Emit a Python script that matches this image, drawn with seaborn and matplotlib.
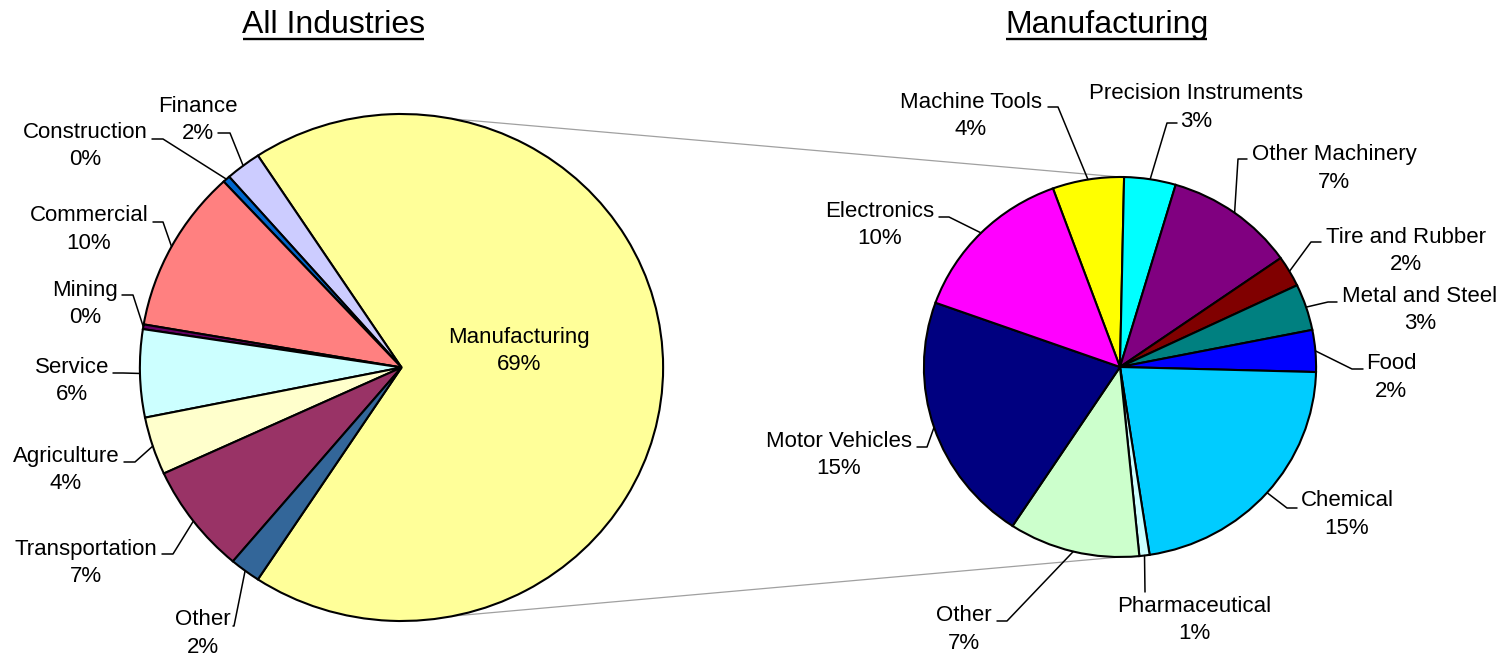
import numpy as np
import matplotlib
matplotlib.use("Agg")
import matplotlib.pyplot as plt
import seaborn as sns

# share of all industries, in %
all_names = ["Manufacturing", "Finance", "Construction", "Commercial", "Mining",
             "Service", "Agriculture", "Transportation", "Other"]
all_values = [68.6, 2.2, 0.45, 10.4, 0.3, 5.6, 3.7, 7.0, 1.9]
all_colors = ["#FFFF99", "#CCCCFF", "#0066CC", "#FF8080", "#660066",
              "#CCFFFF", "#FFFFCC", "#993366", "#336699"]

# manufacturing broken down, share of all industries in %
mfg_names = ["Machine Tools", "Precision Instruments", "Other Machinery",
             "Tire and Rubber", "Metal and Steel", "Food", "Chemical",
             "Pharmaceutical", "Other", "Motor Vehicles", "Electronics"]
mfg_values = [4.06, 2.93, 7.38, 1.82, 2.72, 2.45, 15.28, 0.58, 7.45, 14.66, 9.62]
mfg_colors = ["#FFFF00", "#00FFFF", "#800080", "#800000", "#008080", "#0000FF",
              "#00CCFF", "#CCFFFF", "#CCFFCC", "#000080", "#FF00FF"]

# layout, in pixels from the top left corner
W, H = 1505, 655
SX = 1.032  # pies are a little wider than tall


def P(x, y):
    return x / SX, H - y


all_label_xy = [(519, 348.5), (198, 117.5), (85, 143.5), (89, 227), (85, 301.5),
                (72, 378.5), (66, 467.5), (86, 560.5), (203, 631)]
all_leaders = [None, ((218, 133), (230, 133)), ((152, 139), (163, 139)),
               ((153, 222), (163, 222)), ((122, 295), (133, 295)),
               ((113, 373), (123, 373)), ((124, 462), (135, 462)),
               ((162, 554), (173, 554)), ((233, 626), (234, 626))]

mfg_label_xy = [(971, 113.5), (1196, 105), (1334, 166), (1406, 248.5), (1420, 307.5),
                (1391, 375), (1347, 512), (1194, 617.5), (964, 627), (839, 452.5),
                (880, 222.5)]
mfg_leaders = [((1048, 107), (1058, 107)), ((1177, 123), (1167, 123)),
               ((1247, 159), (1238, 159)), ((1321, 242), (1311, 242)),
               ((1337, 302), (1328, 302)), ((1363, 369), (1352, 369)),
               ((1297, 508), (1287, 508)), ((1145, 592), (1145, 592)),
               ((997, 621), (1007, 621)), ((917, 447), (927, 447)),
               ((939, 217), (949, 217))]

sns.set_theme(style="white")
plt.rcParams["font.family"] = ["Liberation Sans", "DejaVu Sans"]
plt.rcParams["text.color"] = "black"

fig = plt.figure(figsize=(15.05, 6.55), dpi=100)
ax = fig.add_axes([0, 0, 1, 1])


def draw_pie(values, colors, names, center, radius, start, ccw, label_xy, leaders):
    wedges, _ = ax.pie(values, colors=sns.color_palette(colors), startangle=start,
                       counterclock=ccw, center=center, radius=radius,
                       wedgeprops=dict(edgecolor="black", linewidth=1.5, zorder=1))
    for w, name, v, xy, ld in zip(wedges, names, values, label_xy, leaders):
        # va=center counts the descent of the last line, so nudge down a bit
        ax.text(*P(xy[0], xy[1] + 2.5), f"{name}\n{v:.0f}%", ha="center",
                va="center", fontsize=16, linespacing=1.38, color="black", zorder=4)
        if ld is None:
            continue
        mid = np.deg2rad((w.theta1 + w.theta2) / 2)
        ex = center[0] + radius * np.cos(mid)
        ey = center[1] + radius * np.sin(mid)
        (x0, y0), (x1, y1) = P(*ld[0]), P(*ld[1])
        ax.plot([x0, x1, ex], [y0, y1, ey], color="black", lw=1.1, zorder=3)


left_c, left_r = P(401.5, 367.5), 253.5
right_c, right_r = P(1120, 367), 190

mfg_share = all_values[0] / sum(all_values)
draw_pie(all_values, all_colors, all_names, left_c, left_r, -mfg_share * 180, True,
         all_label_xy, all_leaders)
draw_pie(mfg_values, mfg_colors, mfg_names, right_c, right_r, 110, False,
         mfg_label_xy, mfg_leaders)

# grey lines joining the two pies
for sgn in (1, -1):
    a = np.deg2rad(78.7 * sgn)
    x0 = left_c[0] + left_r * np.cos(a)
    y0 = left_c[1] + left_r * np.sin(a)
    ax.plot([x0, right_c[0]], [y0, right_c[1] + sgn * right_r],
            color="#A0A0A0", lw=0.9, zorder=0.5)

ax.set_xlim(0, W / SX)
ax.set_ylim(0, H)
ax.set_aspect("auto")
ax.axis("off")

# underlined titles
titles = []
for title, cx in [("All Industries", 333.5), ("Manufacturing", 1106.5)]:
    titles.append(ax.text(*P(cx, 33.3), title, ha="center", va="baseline",
                          fontsize=23, color="black"))
fig.canvas.draw()
renderer = fig.canvas.get_renderer()
inv = ax.transData.inverted()
for t in titles:
    bb = t.get_window_extent(renderer)
    xa = inv.transform((bb.x0 + 1, 0))[0]
    xb = inv.transform((bb.x1 - 1, 0))[0]
    ax.plot([xa, xb], [H - 38.5, H - 38.5], color="black", lw=1.7,
            solid_capstyle="butt")

fig.savefig("out.png", dpi=100)
